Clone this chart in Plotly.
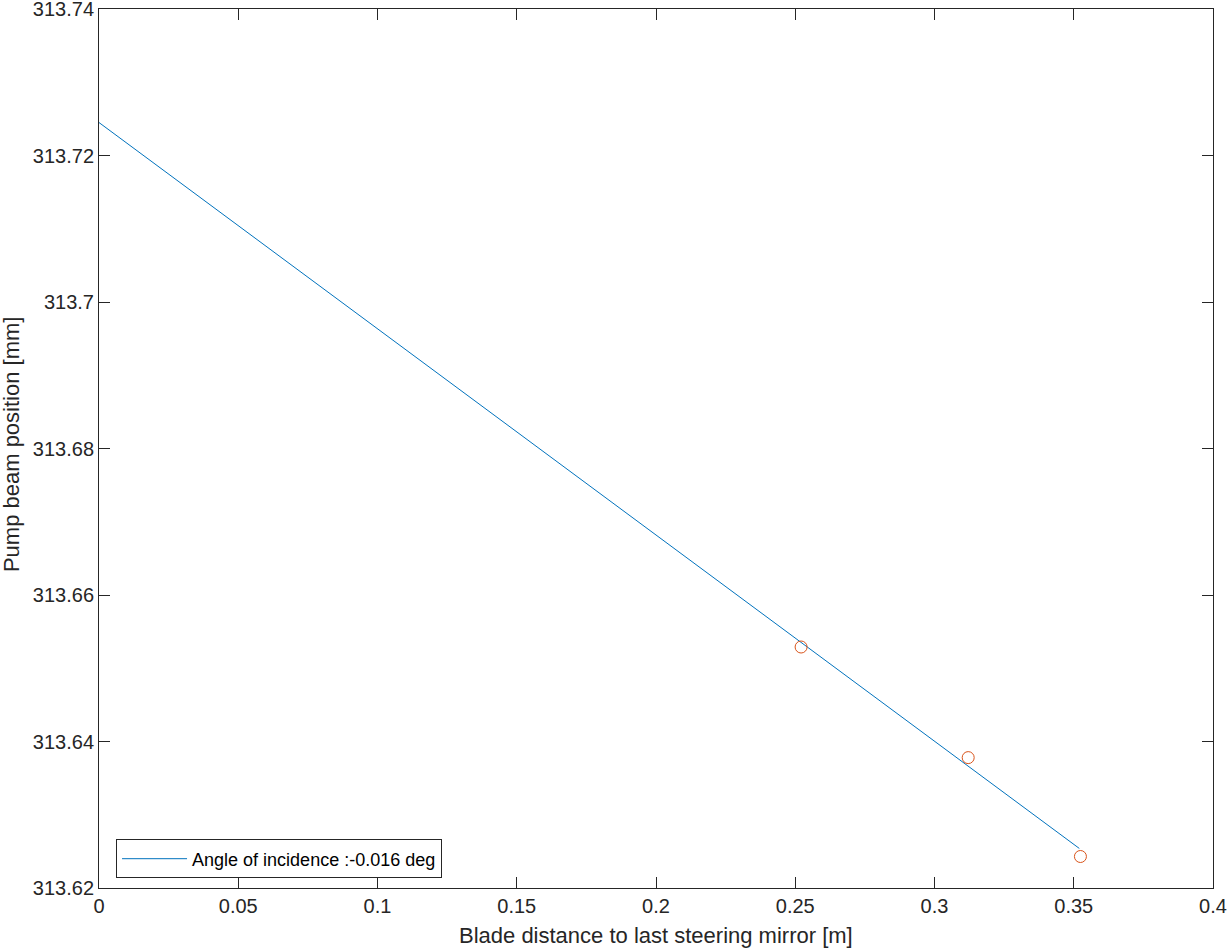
import plotly.graph_objects as go

# Measured points (orange circles)
meas_x = [0.2521, 0.3121, 0.3524]
meas_y = [313.6529, 313.6378, 313.6243]

# Fitted line endpoints
fit_x = [0.0, 0.3520]
fit_y = [313.7245, 313.6254]

x_ticks = [0, 0.05, 0.1, 0.15, 0.2, 0.25, 0.3, 0.35, 0.4]
x_ticklabels = ["0", "0.05", "0.1", "0.15", "0.2", "0.25", "0.3", "0.35", "0.4"]
y_ticks = [313.62, 313.64, 313.66, 313.68, 313.70, 313.72, 313.74]
y_ticklabels = ["313.62", "313.64", "313.66", "313.68", "313.7", "313.72", "313.74"]

legend_label = "Angle of incidence :-0.016 deg"
x_title = "Blade distance to last steering mirror [m]"
y_title = "Pump beam position [mm]"

AX = "#262626"
FONT = "Liberation Sans, Arial, sans-serif"

fig = go.Figure()
fig.add_trace(go.Scatter(
    x=fit_x, y=fit_y, mode="lines", name=legend_label,
    line=dict(color="#0072BD", width=1),
))
fig.add_trace(go.Scatter(
    x=meas_x, y=meas_y, mode="markers", showlegend=False,
    marker=dict(symbol="circle-open", size=12, color="#D95319", line=dict(width=1, color="#D95319")),
))

fig.update_layout(
    width=1230, height=949,
    margin=dict(l=99, r=17, t=9, b=61, autoexpand=False),
    paper_bgcolor="white", plot_bgcolor="white",
    font=dict(family=FONT, size=20, color=AX),
    showlegend=True,
    legend=dict(
        x=0.0153, y=0.033, xanchor="left", yanchor="middle",
        bgcolor="white", bordercolor=AX, borderwidth=1,
        font=dict(family=FONT, size=18, color="black"),
        tracegroupgap=0, itemwidth=65,
    ),
    annotations=[
        dict(text=x_title, xref="paper", yref="paper", x=0.5, y=-0.0546,
             xanchor="center", yanchor="middle", showarrow=False,
             font=dict(family=FONT, size=22, color=AX)),
        dict(text=y_title, xref="paper", yref="paper", x=-0.079, y=0.505,
             xanchor="center", yanchor="middle", showarrow=False, textangle=-90,
             font=dict(family=FONT, size=22, color=AX)),
    ],
)
fig.update_xaxes(
    range=[0, 0.4], tickvals=x_ticks, ticktext=x_ticklabels,
    ticks="inside", ticklen=11, tickwidth=1, tickcolor=AX,
    showline=True, linecolor=AX, linewidth=1, mirror="ticks",
    showgrid=False, zeroline=False, automargin=False,
    ticklabeloverflow="allow",
    tickfont=dict(size=20, color=AX),
)
fig.update_yaxes(
    range=[313.62, 313.74], tickvals=y_ticks, ticktext=y_ticklabels,
    ticks="inside", ticklen=11, tickwidth=1, tickcolor=AX,
    showline=True, linecolor=AX, linewidth=1, mirror="ticks",
    showgrid=False, zeroline=False, automargin=False,
    ticklabeloverflow="allow",
    tickfont=dict(size=20, color=AX),
)

fig.write_html(
    "out.html",
    config={"displayModeBar": False},
    post_script="document.body.style.margin='0';document.body.style.overflow='hidden';",
)
